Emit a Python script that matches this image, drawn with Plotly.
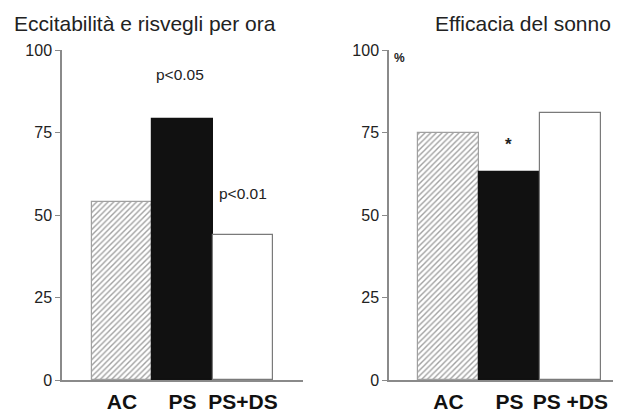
import plotly.graph_objects as go

categories_left = ["AC", "PS", "PS+DS"]
values_left = [54, 79, 44]
categories_right = ["AC", "PS", "PS +DS"]
values_right = [75, 63, 81]
y_ticks = [0, 25, 50, 75, 100]
title_left = "Eccitabilità e risvegli per ora"
title_right = "Efficacia del sonno"

fills = ["white", "#111111", "white"]
patterns = ["/", "", ""]
pat_fg = ["#8c8c8c", "#111111", "white"]
line_cols = ["#a0a0a0", "#111111", "#7a7a7a"]

FONT = "Liberation Sans, Arial, sans-serif"
W, H = 613, 407  # page body has an 8px margin inside the 621x415 window
fig = go.Figure()

for cats, vals, xa, ya in [(categories_left, values_left, "x", "y"),
                           (categories_right, values_right, "x2", "y2")]:
    fig.add_trace(go.Bar(
        x=cats, y=vals, xaxis=xa, yaxis=ya, width=1.0,
        marker=dict(color=fills, line=dict(color=line_cols, width=1.2),
                    pattern=dict(shape=patterns, fgcolor=pat_fg, bgcolor=fills,
                                 size=4, solidity=0.35)),
        showlegend=False, hoverinfo="skip"))

axis_col = "#8a8a8a"
yax = dict(range=[0, 100], tickvals=y_ticks, showgrid=False, zeroline=False,
           showline=True, linecolor=axis_col, linewidth=1.5, ticks="outside",
           ticklen=5, tickcolor=axis_col, tickwidth=1.2,
           tickfont=dict(family=FONT, size=16, color="#222"),
           domain=[35/H, 365/H], fixedrange=True, automargin=False)
xax = dict(showgrid=False, zeroline=False, showline=True, linecolor=axis_col,
           linewidth=1.5, ticks="", tickfont=dict(family=FONT, size=21, color="#111",
           weight="bold"), ticklabelstandoff=2, fixedrange=True, automargin=False)

fig.update_layout(
    width=W, height=H, margin=dict(l=0, r=0, t=0, b=0, autoexpand=False),
    paper_bgcolor="white", plot_bgcolor="white", bargap=0,
    xaxis=dict(xax, domain=[54/W, 295/W], range=[-0.99, 2.99], anchor="y"),
    yaxis=dict(yax, anchor="x"),
    xaxis2=dict(xax, domain=[381/W, 1.0], range=[-0.975, 2.83], anchor="y2"),
    yaxis2=dict(yax, anchor="x2"),
)

def P(x, y):
    return x / W, 1 - y / H

ann = [
    dict(text=title_left, pos=P(4, 15), xanchor="left", font=dict(size=21)),
    dict(text=title_right, pos=P(605, 15), xanchor="right", font=dict(size=21)),
    dict(text="p<0.05", pos=P(172, 67), xanchor="center", font=dict(size=15.5)),
    dict(text="p<0.01", pos=P(235, 185), xanchor="center", font=dict(size=15.5)),
    dict(text="*", pos=P(500, 137), xanchor="center", font=dict(size=17, weight="bold")),
    dict(text="%", pos=P(391, 50), xanchor="center", font=dict(size=12, weight="bold")),
]
out = []
for a in ann:
    x, y = a.pop("pos")
    a.update(x=x, y=y, xref="paper", yref="paper", showarrow=False, yanchor="middle")
    a["font"] = dict(family=FONT, color="#222", **a["font"])
    out.append(a)
fig.update_layout(annotations=out)

fig.write_html("out.html")
